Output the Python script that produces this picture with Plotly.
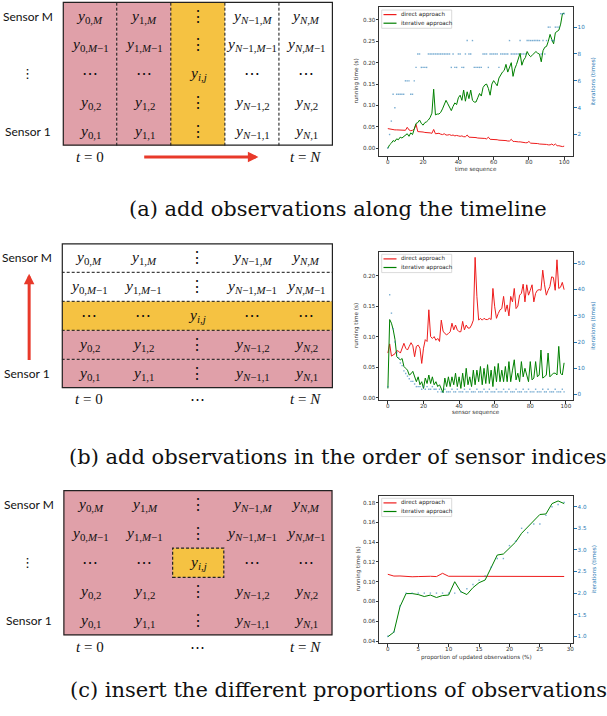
import plotly.graph_objects as go

# ---------------- data ----------------
# chart (a): add observations along the timeline
a_x = list(range(0, 101))
a_direct = [0.046, 0.045, 0.044, 0.044, 0.043, 0.043, 0.043, 0.042, 0.042, 0.043,
            0.042, 0.049, 0.043, 0.041, 0.042, 0.045, 0.056, 0.039, 0.039, 0.038,
            0.038, 0.037, 0.037, 0.036, 0.036, 0.035, 0.044, 0.034, 0.034, 0.035,
            0.033, 0.032, 0.034, 0.031, 0.031, 0.032, 0.030, 0.031, 0.029, 0.030,
            0.029, 0.028, 0.029, 0.027, 0.027, 0.031, 0.026, 0.026, 0.025, 0.025,
            0.025, 0.024, 0.024, 0.023, 0.023, 0.023, 0.022, 0.026, 0.021, 0.021,
            0.020, 0.020, 0.020, 0.019, 0.019, 0.018, 0.018, 0.018, 0.017, 0.017,
            0.021, 0.016, 0.016, 0.015, 0.015, 0.015, 0.014, 0.014, 0.013, 0.013,
            0.016, 0.012, 0.012, 0.011, 0.011, 0.011, 0.010, 0.010, 0.009, 0.009,
            0.009, 0.008, 0.008, 0.010, 0.007, 0.010, 0.006, 0.006, 0.005, 0.004,
            0.005]
a_iter_time = [0.000, 0.008, 0.012, 0.018, 0.016, 0.022, 0.020, 0.026, 0.024, 0.028,
               0.030, 0.034, 0.028, 0.036, 0.032, 0.044, 0.058, 0.060, 0.066, 0.058,
               0.054, 0.060, 0.062, 0.066, 0.072, 0.082, 0.138, 0.078, 0.080, 0.080,
               0.084, 0.092, 0.104, 0.112, 0.104, 0.096, 0.088, 0.098, 0.106, 0.102,
               0.118, 0.124, 0.112, 0.136, 0.110, 0.132, 0.116, 0.136, 0.112, 0.108,
               0.108, 0.118, 0.128, 0.122, 0.142, 0.148, 0.150, 0.140, 0.124, 0.150,
               0.158, 0.152, 0.146, 0.164, 0.172, 0.178, 0.182, 0.196, 0.178, 0.190,
               0.200, 0.168, 0.186, 0.196, 0.208, 0.222, 0.194, 0.206, 0.212, 0.226,
               0.218, 0.214, 0.218, 0.222, 0.226, 0.222, 0.220, 0.202, 0.228, 0.236,
               0.238, 0.250, 0.266, 0.254, 0.244, 0.270, 0.274, 0.276, 0.290, 0.314,
               0.316]
a_iterations = [1, 2, 3, 5, 4, 5, 5, 5, 5, 5,
                6, 6, 6, 5, 5, 6, 7, 8, 8, 7,
                7, 7, 7, 8, 8, 8, 8, 8, 8, 8,
                8, 8, 8, 8, 8, 8, 7, 8, 7, 7,
                8, 8, 7, 7, 8, 9, 8, 8, 9, 7,
                7, 7, 7, 7, 8, 8, 8, 7, 8, 8,
                8, 8, 8, 7, 8, 8, 8, 8, 8, 9,
                8, 8, 8, 8, 8, 9, 8, 8, 8, 9,
                9, 9, 9, 9, 9, 9, 9, 8, 9, 8,
                9, 10, 10, 9, 9, 10, 10, 10, 11, 11,
                11]

# chart (b): add observations in the order of sensor indices
b_x = list(range(0, 100))
b_direct = [0.073, 0.088, 0.068, 0.070, 0.072, 0.077, 0.076, 0.073, 0.081, 0.089,
            0.081, 0.078, 0.084, 0.090, 0.085, 0.067, 0.084, 0.086, 0.081, 0.056,
            0.081, 0.095, 0.092, 0.144, 0.100, 0.097, 0.100, 0.094, 0.097, 0.092,
            0.127, 0.109, 0.105, 0.103, 0.105, 0.108, 0.122, 0.111, 0.119, 0.111,
            0.108, 0.108, 0.125, 0.111, 0.119, 0.114, 0.114, 0.119, 0.127, 0.230,
            0.166, 0.127, 0.130, 0.127, 0.130, 0.128, 0.128, 0.130, 0.128, 0.179,
            0.149, 0.130, 0.138, 0.144, 0.146, 0.166, 0.141, 0.152, 0.134, 0.166,
            0.157, 0.179, 0.146, 0.150, 0.168, 0.171, 0.186, 0.157, 0.185, 0.168,
            0.176, 0.185, 0.157, 0.171, 0.176, 0.177, 0.176, 0.209, 0.185, 0.168,
            0.176, 0.182, 0.198, 0.197, 0.176, 0.226, 0.179, 0.181, 0.189, 0.177]
b_iter_time = [0.015, 0.128, 0.122, 0.111, 0.095, 0.067, 0.064, 0.062, 0.064, 0.051,
               0.048, 0.045, 0.037, 0.039, 0.043, 0.034, 0.026, 0.034, 0.021, 0.026,
               0.015, 0.032, 0.023, 0.037, 0.023, 0.034, 0.021, 0.026, 0.018, 0.021,
               0.015, 0.008, 0.032, 0.018, 0.034, 0.018, 0.034, 0.021, 0.040, 0.018,
               0.034, 0.015, 0.040, 0.018, 0.048, 0.021, 0.034, 0.018, 0.045, 0.021,
               0.045, 0.026, 0.051, 0.021, 0.048, 0.023, 0.054, 0.023, 0.045, 0.018,
               0.051, 0.026, 0.056, 0.026, 0.045, 0.026, 0.051, 0.026, 0.059, 0.026,
               0.045, 0.062, 0.029, 0.040, 0.026, 0.059, 0.034, 0.048, 0.037, 0.026,
               0.059, 0.029, 0.032, 0.059, 0.034, 0.037, 0.078, 0.032, 0.034, 0.037,
               0.073, 0.034, 0.037, 0.040, 0.040, 0.037, 0.084, 0.040, 0.037, 0.057]
b_iterations = [3, 38, 31, 25, 20, 16, 14, 12, 11, 9,
                8, 7, 6, 5, 5, 4, 3, 3, 3, 2,
                3, 2, 3, 2, 2, 3, 2, 2, 1, 2,
                1, 1, 2, 1, 1, 1, 2, 1, 1, 2,
                1, 1, 1, 2, 1, 1, 2, 1, 1, 1,
                2, 1, 1, 1, 2, 1, 1, 2, 1, 1,
                1, 2, 1, 1, 1, 2, 1, 1, 2, 1,
                1, 1, 2, 1, 1, 1, 2, 1, 1, 2,
                1, 1, 1, 2, 1, 1, 1, 2, 1, 1,
                2, 1, 1, 1, 2, 1, 1, 1, 2, 1]

# chart (c): insert the different proportions of observations
c_x = list(range(0, 30))
c_direct = [0.1075, 0.1057, 0.1058, 0.1052, 0.1050, 0.1052, 0.1055, 0.1055, 0.1052, 0.1085,
            0.1055, 0.1055, 0.1058, 0.1058, 0.1057, 0.1055, 0.1055, 0.1055, 0.1057, 0.1058,
            0.1057, 0.1055, 0.1053, 0.1053, 0.1057, 0.1058, 0.1057, 0.1055, 0.1055, 0.1053]
c_iter_time = [0.0443, 0.049, 0.0747, 0.088, 0.088, 0.087, 0.085, 0.0865, 0.084, 0.086,
               0.0865, 0.100, 0.0899, 0.087, 0.094, 0.099, 0.1017, 0.115, 0.127, 0.128,
               0.134, 0.140, 0.149, 0.155, 0.162, 0.168, 0.1685, 0.179, 0.1817, 0.179]
c_iterations = [1.0, 1.1, 1.7, 2.0, 2.0, 2.0, 2.0, 2.0, 2.0, 2.0,
                2.0, 2.0, 2.03, 2.1, 2.2, 2.3, 2.4, 2.6, 2.8, 2.8,
                3.1, 3.2, 3.5, 3.4, 3.6, 3.6, 3.8, 4.0, 4.05, 4.1]

series_names = ["direct approach", "iterative approach"]
x_titles = ["time sequence", "sensor sequence", "proportion of updated observations (%)"]
y_title_left = "running time (s)"
y_title_right = "iterations (times)"
captions = ["(a) add observations along the timeline",
            "(b) add observations in the order of sensor indices",
            "(c) insert the different proportions of observations"]

# matrix diagram content (rows from bottom = sensor 1 to top = sensor M)
row_subs = ["1", "2", None, "<i>M</i>−1", "<i>M</i>"]
col_subs = ["0", "1", None, "<i>N</i>−1", "<i>N</i>"]
sensor_labels = ["Sensor 1", "⋮", "Sensor M"]
time_labels_a = ["<i>t</i> = 0", "<i>t</i> = <i>N</i>"]
time_labels_bc = ["<i>t</i> = 0", "⋯", "<i>t</i> = <i>N</i>"]

# ---------------- style ----------------
W, H = 607, 716
RED = "#ee1c1c"
GREEN = "#008000"
BLUE = "#1f77b4"
PINK = "#e0a0a9"
YELLOW = "#f5c242"
ARROW = "#e8392a"
FS = 5.6
TICKF = dict(family="DejaVu Sans", size=FS, color="#333")


def fx(p):
    return p / W


def fy(p):
    return 1 - p / H


def ann(**kw):
    kw.setdefault("xanchor", "center")
    kw.setdefault("yanchor", "middle")
    kw.setdefault("showarrow", False)
    return kw


fig = go.Figure()

charts = [
    dict(x=a_x, d=a_direct, it=a_iter_time, n=a_iterations, top=7, bot=156,
         xr=[-5, 105], xt=list(range(0, 101, 20)), xf="d",
         yr=[-0.018, 0.330], yt=[0, 0.05, 0.10, 0.15, 0.20, 0.25, 0.30], yf=".2f",
         y2r=[0.4, 11.5], y2t=[2, 4, 6, 8, 10], y2f="d",
         xlab_y=169, ylab_x=356, y2lab_x=592, leg_y=10),
    dict(x=b_x, d=b_direct, it=b_iter_time, n=b_iterations, top=252, bot=400,
         xr=[-5, 104], xt=list(range(0, 101, 20)), xf="d",
         yr=[-0.004, 0.2388], yt=[0, 0.05, 0.10, 0.15, 0.20], yf=".2f",
         y2r=[-2.1, 54.3], y2t=[0, 10, 20, 30, 40, 50], y2f="d",
         xlab_y=412.7, ylab_x=356, y2lab_x=592.7, leg_y=254.3),
    dict(x=c_x, d=c_direct, it=c_iter_time, n=c_iterations, top=495.7, bot=643,
         xr=[-1.45, 30.45], xt=list(range(0, 31, 5)), xf="d",
         yr=[0.038, 0.187], yt=[0.04, 0.06, 0.08, 0.10, 0.12, 0.14, 0.16, 0.18], yf=".2f",
         y2r=[0.845, 4.255], y2t=[1.0, 1.5, 2.0, 2.5, 3.0, 3.5, 4.0], y2f=".1f",
         xlab_y=657.3, ylab_x=358, y2lab_x=594, leg_y=498.3),
]

PL, PR = 379, 573
annotations = []
shapes = []
common_ax = dict(showgrid=False, zeroline=False, showline=True, linecolor="#333",
                 linewidth=1, ticks="outside", ticklen=2.5, tickwidth=0.8)

for i, c in enumerate(charts):
    xa = "x" if i == 0 else f"x{i + 1}"
    yl_num = 2 * i + 1
    yr_num = 2 * i + 2
    yl = "y" if yl_num == 1 else f"y{yl_num}"
    yr = f"y{yr_num}"
    fig.add_trace(go.Scatter(x=c["x"], y=c["d"], mode="lines", name=series_names[0],
                             line=dict(color=RED, width=1), xaxis=xa, yaxis=yl,
                             showlegend=False))
    fig.add_trace(go.Scatter(x=c["x"], y=c["it"], mode="lines", name=series_names[1],
                             line=dict(color=GREEN, width=1), xaxis=xa, yaxis=yl,
                             showlegend=False))
    fig.add_trace(go.Scatter(x=c["x"], y=c["n"], mode="markers", showlegend=False,
                             marker=dict(color=BLUE, size=1.4, symbol="square", opacity=0.6,
                                         line=dict(width=0)),
                             xaxis=xa, yaxis=yr))
    xkey = "xaxis" if i == 0 else f"xaxis{i + 1}"
    ylkey = f"yaxis{'' if yl_num == 1 else yl_num}"
    yrkey = f"yaxis{yr_num}"
    dom_y = [fy(c["bot"]), fy(c["top"])]
    fig.update_layout(**{
        xkey: dict(domain=[fx(PL), fx(PR)], anchor=yl, range=c["xr"], tickvals=c["xt"],
                   tickformat=c["xf"], mirror=True, tickcolor="#333", tickfont=TICKF,
                   ticklabelstandoff=-2, **common_ax),
        ylkey: dict(domain=dom_y, anchor=xa, range=c["yr"], tickvals=c["yt"],
                    tickformat=c["yf"], tickcolor="#333", tickfont=TICKF,
                    ticklabelstandoff=-1, **common_ax),
        yrkey: dict(overlaying=yl, side="right", anchor=xa, range=c["y2r"],
                    tickvals=c["y2t"], tickformat=c["y2f"], tickcolor=BLUE,
                    tickfont=dict(family="DejaVu Sans", size=FS, color=BLUE),
                    ticklabelstandoff=0, **common_ax),
    })
    mid_y = (c["top"] + c["bot"]) / 2
    annotations.append(ann(text=x_titles[i], x=fx((PL + PR) / 2), y=fy(c["xlab_y"]),
                           xref="paper", yref="paper",
                           font=dict(family="DejaVu Sans", size=FS, color="#333")))
    annotations.append(ann(text=y_title_left, x=fx(c["ylab_x"]), y=fy(mid_y),
                           xref="paper", yref="paper", textangle=-90,
                           font=dict(family="DejaVu Sans", size=FS, color="#333")))
    annotations.append(ann(text=y_title_right, x=fx(c["y2lab_x"]), y=fy(mid_y),
                           xref="paper", yref="paper", textangle=-90,
                           font=dict(family="DejaVu Sans", size=FS, color=BLUE)))
    # legend box (matplotlib style)
    ly = c["leg_y"]
    shapes.append(dict(type="rect", xref="paper", yref="paper",
                       x0=fx(381.7), x1=fx(451.7), y0=fy(ly + 18.3), y1=fy(ly),
                       fillcolor="rgba(255,255,255,0.85)", line=dict(color="#d0d0d0", width=0.8)))
    for k, (name, col) in enumerate(zip(series_names, [RED, GREEN])):
        yy = ly + 4.6 + k * 8.6
        shapes.append(dict(type="line", xref="paper", yref="paper",
                           x0=fx(383.5), x1=fx(396.5), y0=fy(yy), y1=fy(yy),
                           line=dict(color=col, width=1.2)))
        annotations.append(ann(text=name, x=fx(399.3), y=fy(yy), xref="paper", yref="paper",
                               xanchor="left",
                               font=dict(family="DejaVu Sans", size=FS, color="#222")))

# ---------------- matrices ----------------
mats = [
    dict(left=62.7, right=333, top=1.7, bot=145.7, mode="col"),
    dict(left=61.7, right=333, top=243.3, bot=388.3, mode="row"),
    dict(left=63.3, right=332.6, top=490, bot=635.5, mode="cell"),
]
fills_a = [PINK, PINK, YELLOW, "white", "white"]   # per column
fills_b = [PINK, PINK, YELLOW, "white", "white"]   # per row, bottom to top


def cell_label(r, c):
    if r == 2 and c == 2:
        return "<i>y</i><sub><i>i</i>,<i>j</i></sub>"
    if r == 2:
        return "⋯"
    if c == 2:
        return "⋮"
    return f"<i>y</i><sub>{col_subs[c]},{row_subs[r]}</sub>"


for m_i, m in enumerate(mats):
    n = 4 + m_i
    xa = f"x{n}"
    ya = f"y{n + 3}"
    cw = (m["right"] - m["left"]) / 5
    rh = (m["bot"] - m["top"]) / 5

    def mpx(u, m=m, cw=cw):
        return fx(m["left"] + u * cw)

    def mpy(v, m=m, rh=rh):
        return fy(m["bot"] - v * rh)

    fig.update_layout(**{
        f"xaxis{n}": dict(domain=[fx(m["left"]), fx(m["right"])], range=[0, 5],
                          visible=False, anchor=ya, fixedrange=True),
        f"yaxis{n + 3}": dict(domain=[fy(m["bot"]), fy(m["top"])], range=[0, 5],
                              visible=False, anchor=xa, fixedrange=True),
    })
    fig.add_trace(go.Scatter(x=[0, 5], y=[0, 5], mode="markers", showlegend=False,
                             marker=dict(opacity=0), hoverinfo="skip", xaxis=xa, yaxis=ya))
    if m["mode"] == "col":
        for c in range(5):
            shapes.append(dict(type="rect", xref=xa, yref=ya, x0=c, x1=c + 1, y0=0, y1=5,
                               fillcolor=fills_a[c], line=dict(width=0), layer="below"))
        for c in range(1, 5):
            shapes.append(dict(type="line", xref=xa, yref=ya, x0=c, x1=c, y0=0, y1=5,
                               line=dict(color="#111", width=1, dash="3px,2px")))
    elif m["mode"] == "row":
        for r in range(5):
            shapes.append(dict(type="rect", xref=xa, yref=ya, x0=0, x1=5, y0=r, y1=r + 1,
                               fillcolor=fills_b[r], line=dict(width=0), layer="below"))
        for r in range(1, 5):
            shapes.append(dict(type="line", xref=xa, yref=ya, x0=0, x1=5, y0=r, y1=r,
                               line=dict(color="#111", width=1, dash="3px,2px")))
    else:
        shapes.append(dict(type="rect", xref=xa, yref=ya, x0=0, x1=5, y0=0, y1=5,
                           fillcolor=PINK, line=dict(width=0), layer="below"))
        shapes.append(dict(type="rect", xref=xa, yref=ya, x0=2.03, x1=2.98, y0=2.0, y1=3.0,
                           fillcolor=YELLOW, line=dict(color="#222", width=1.2, dash="3px,2px")))
    shapes.append(dict(type="rect", xref=xa, yref=ya, x0=0, x1=5, y0=0, y1=5,
                       line=dict(color="#222", width=2.4)))
    for r in range(5):
        for c in range(5):
            annotations.append(ann(text=cell_label(r, c), x=c + 0.5, y=r + 0.5,
                                   xref=xa, yref=ya,
                                   font=dict(family="Liberation Serif", size=15.5, color="#111")))
    # sensor labels (outside the matrix -> paper coordinates)
    lab_x = mpx(-0.64)
    annotations.append(ann(text=sensor_labels[2], x=lab_x, y=mpy(4.5), xref="paper",
                           yref="paper", font=dict(family="Lato", size=12, color="#111")))
    annotations.append(ann(text=sensor_labels[0], x=lab_x, y=mpy(0.5), xref="paper",
                           yref="paper", font=dict(family="Lato", size=12, color="#111")))
    if m_i != 1:
        annotations.append(ann(text=sensor_labels[1], x=mpx(-0.66), y=mpy(2.5), xref="paper",
                               yref="paper",
                               font=dict(family="DejaVu Sans", size=13, color="#111")))
    # time labels
    tl = time_labels_a if m_i == 0 else time_labels_bc
    tx = [0.5, 4.5] if m_i == 0 else [0.5, 2.5, 4.5]
    for t, xv in zip(tl, tx):
        annotations.append(ann(text=t, x=mpx(xv), y=mpy(-0.38), xref="paper", yref="paper",
                               font=dict(family="Liberation Serif", size=15, color="#111")))
    # arrows
    if m_i == 0:
        annotations.append(dict(text="", x=mpx(3.62), y=mpy(-0.39), xref="paper", yref="paper",
                                ax=-(3.62 - 1.48) * cw, ay=0, axref="pixel", ayref="pixel",
                                showarrow=True, arrowhead=2, arrowsize=0.7,
                                arrowwidth=3, arrowcolor=ARROW))
    if m_i == 1:
        annotations.append(dict(text="", x=mpx(-0.60), y=mpy(3.95), xref="paper", yref="paper",
                                ax=0, ay=(3.95 - 0.92) * rh, axref="pixel", ayref="pixel",
                                showarrow=True, arrowhead=2, arrowsize=0.7,
                                arrowwidth=3, arrowcolor=ARROW))

# captions
for cap, yc in zip(captions, [209, 457, 690]):
    annotations.append(ann(text=cap, x=fx(338), y=fy(yc), xref="paper", yref="paper",
                           font=dict(family="DejaVu Serif", size=21, color="#111")))

fig.update_layout(width=W, height=H, margin=dict(l=0, r=0, t=0, b=0, autoexpand=False),
                  paper_bgcolor="white", plot_bgcolor="white", showlegend=False,
                  annotations=annotations, shapes=shapes)

fig.write_html("out.html", config={"displayModeBar": False},
               post_script="document.body.style.margin='0px';"
                           "document.body.style.overflow='hidden';")
